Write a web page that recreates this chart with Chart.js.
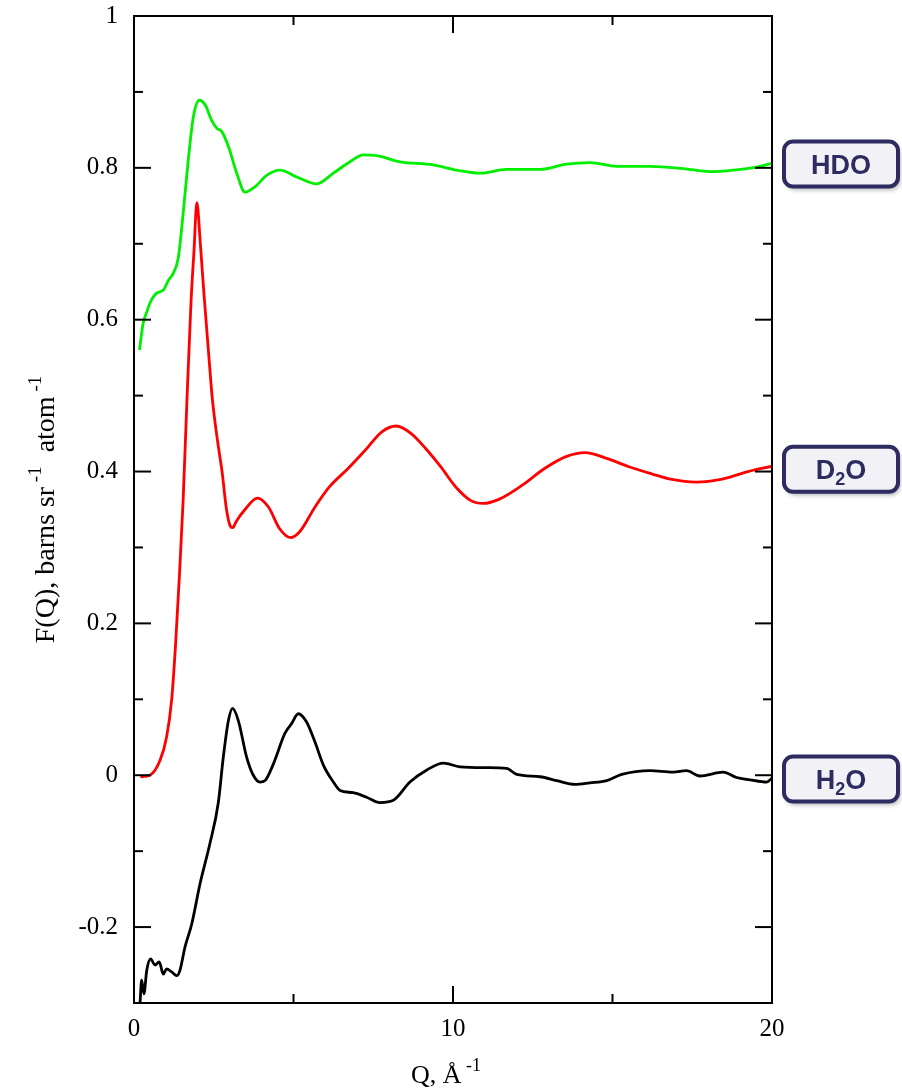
<!DOCTYPE html>
<html>
<head>
<meta charset="utf-8">
<script src="https://cdn.jsdelivr.net/npm/chart.js"></script>
<style>
  body { margin: 0; background: #fff; }
  #wrap { width: 902px; height: 1091px; }
</style>
</head>
<body>
<div id="wrap"><canvas id="myChart" width="902" height="1091"></canvas></div>
<script>
// values (Q in 1/Angstrom, F(Q) in barns/sr/atom)
const hdoQ = [0.17, 0.29, 0.4, 0.5, 0.71, 0.92, 1.08, 1.23, 1.39, 1.55, 1.70, 1.86, 2.05, 2.23, 2.43, 2.6, 2.75, 2.96, 3.22, 3.48, 3.79, 4.16, 4.58, 5.10, 5.73, 6.25, 6.77, 7.19, 7.61, 8.34, 9.38, 10.11, 10.85, 11.68, 12.73, 13.56, 14.29, 15.13, 16.18, 17.22, 18.06, 18.79, 19.52, 20];
const hdoF = [0.56, 0.596, 0.61, 0.622, 0.635, 0.639, 0.652, 0.661, 0.682, 0.744, 0.81, 0.867, 0.889, 0.883, 0.863, 0.852, 0.848, 0.828, 0.793, 0.768, 0.775, 0.79, 0.797, 0.788, 0.779, 0.793, 0.808, 0.817, 0.816, 0.808, 0.804, 0.797, 0.793, 0.798, 0.798, 0.805, 0.807, 0.802, 0.802, 0.799, 0.795, 0.797, 0.801, 0.806];

const d2oQ = [0.2, 0.5, 0.82, 1.02, 1.18, 1.3, 1.42, 1.54, 1.66, 1.79, 1.88, 1.97, 2.08, 2.2, 2.35, 2.46, 2.62, 2.76, 2.9, 3.02, 3.1, 3.2, 3.46, 3.87, 4.22, 4.56, 4.91, 5.2, 5.67, 6.13, 6.71, 7.29, 7.76, 8.22, 8.69, 9.15, 9.62, 10.08, 10.55, 10.95, 11.47, 12.17, 12.87, 13.56, 14.14, 14.84, 15.54, 16.23, 16.82, 17.63, 18.44, 19.25, 20];
const d2oF = [-0.002, 0, 0.02, 0.05, 0.099, 0.17, 0.26, 0.362, 0.494, 0.626, 0.69, 0.754, 0.70, 0.63, 0.55, 0.494, 0.44, 0.40, 0.35, 0.328, 0.326, 0.334, 0.349, 0.365, 0.353, 0.325, 0.313, 0.321, 0.353, 0.380, 0.404, 0.430, 0.452, 0.460, 0.450, 0.430, 0.406, 0.380, 0.362, 0.358, 0.364, 0.382, 0.404, 0.420, 0.425, 0.417, 0.406, 0.397, 0.390, 0.386, 0.390, 0.400, 0.407];

const h2oQ = [0.19, 0.24, 0.31, 0.40, 0.52, 0.66, 0.79, 0.92, 1.02, 1.18, 1.34, 1.44, 1.60, 1.81, 2.07, 2.38, 2.64, 2.80, 2.96, 3.09, 3.27, 3.53, 3.74, 3.95, 4.11, 4.37, 4.73, 4.94, 5.15, 5.41, 5.67, 5.94, 6.25, 6.46, 6.87, 7.29, 7.71, 8.13, 8.65, 9.18, 9.70, 10.22, 11.06, 11.68, 12.0, 12.73, 13.25, 13.82, 14.29, 14.82, 15.29, 16.18, 16.90, 17.32, 17.74, 18.47, 18.89, 19.31, 19.83, 20];
const h2oF = [-0.299, -0.270, -0.288, -0.257, -0.242, -0.250, -0.246, -0.262, -0.255, -0.259, -0.264, -0.257, -0.226, -0.196, -0.143, -0.090, -0.037, 0.024, 0.072, 0.088, 0.072, 0.024, 0.0, -0.009, -0.007, 0.015, 0.055, 0.068, 0.081, 0.070, 0.044, 0.013, -0.009, -0.020, -0.023, -0.029, -0.036, -0.033, -0.009, 0.007, 0.016, 0.011, 0.010, 0.009, 0.001, -0.002, -0.007, -0.012, -0.010, -0.007, 0.001, 0.006, 0.004, 0.006, -0.001, 0.004, -0.003, -0.006, -0.009, -0.004];

const xTicks = [0, 10, 20];
const xTickLabels = ['0', '10', '20'];
const xMinor = [5, 15];
const yTicks = [-0.2, 0, 0.2, 0.4, 0.6, 0.8, 1];
const yTickLabels = ['-0.2', '0', '0.2', '0.4', '0.6', '0.8', '1'];
const yMinor = [-0.1, 0.1, 0.3, 0.5, 0.7, 0.9];

const seriesNames = ['HDO', 'D2O', 'H2O'];
const seriesColors = ['#00ee00', '#ff0000', '#000000'];
const labelAt = [0.805, 0.403, -0.005];

const pts = (qs, fs) => qs.map((q, i) => ({ x: q, y: fs[i] }))
const serif = '"Liberation Serif", "Times New Roman", serif'
const sans = '"Liberation Sans", Arial, sans-serif'

// frame with inward ticks, axis titles and the side labels
const decorations = {
    id: 'decorations',
    afterDatasetsDraw(chart) {
        const { ctx, chartArea: a, scales: { x, y } } = chart
        ctx.save()
        ctx.strokeStyle = '#000'
        ctx.lineWidth = 2
        ctx.strokeRect(a.left, a.top, a.right - a.left, a.bottom - a.top)

        const tick = (x1, y1, x2, y2) => {
            ctx.beginPath(); ctx.moveTo(x1, y1); ctx.lineTo(x2, y2); ctx.stroke()
        }
        yTicks.forEach(v => {
            const p = y.getPixelForValue(v)
            tick(a.left, p, a.left + 17, p); tick(a.right, p, a.right - 17, p)
        })
        yMinor.forEach(v => {
            const p = y.getPixelForValue(v)
            tick(a.left, p, a.left + 9, p); tick(a.right, p, a.right - 9, p)
        })
        xTicks.forEach(v => {
            const p = x.getPixelForValue(v)
            tick(p, a.bottom, p, a.bottom - 17); tick(p, a.top, p, a.top + 17)
        })
        xMinor.forEach(v => {
            const p = x.getPixelForValue(v)
            tick(p, a.bottom, p, a.bottom - 9); tick(p, a.top, p, a.top + 9)
        })

        // rich text: parts of [text, size, dy]
        const drawRich = (parts, cx, cy) => {
            let w = 0
            parts.forEach(p => { ctx.font = p[1] + 'px ' + serif; w += ctx.measureText(p[0]).width })
            let px = cx - w / 2
            parts.forEach(p => {
                ctx.font = p[1] + 'px ' + serif
                ctx.fillText(p[0], px, cy + p[2])
                px += ctx.measureText(p[0]).width
            })
        }
        ctx.fillStyle = '#000'
        ctx.textBaseline = 'alphabetic'
        ctx.textAlign = 'left'
        drawRich([['Q, \u00C5', 26, 0], [' -1', 18, -12]], 446, 1083)

        ctx.save()
        ctx.translate(54, (a.top + a.bottom) / 2)
        ctx.rotate(-Math.PI / 2)
        drawRich([['F(Q), barns sr', 28, 0], [' -1', 19, -13], ['  atom', 28, 0], [' -1', 19, -13]], 0, 0)
        ctx.restore()

        // boxed series labels
        seriesNames.forEach((name, i) => {
            const cy = y.getPixelForValue(labelAt[i])
            const bx = 784, bw = 114, bh = 45, by = cy - bh / 2
            ctx.save()
            ctx.shadowColor = 'rgba(0,0,0,0.35)'
            ctx.shadowBlur = 5
            ctx.shadowOffsetX = 2
            ctx.shadowOffsetY = 3
            ctx.beginPath()
            ctx.roundRect(bx, by, bw, bh, 9)
            ctx.fillStyle = '#f2f1f6'
            ctx.fill()
            ctx.restore()
            ctx.beginPath()
            ctx.roundRect(bx, by, bw, bh, 9)
            ctx.lineWidth = 4
            ctx.strokeStyle = '#2d2b5f'
            ctx.stroke()

            ctx.fillStyle = '#2d2b5f'
            const big = 'bold 27px ' + sans, small = 'bold 18px ' + sans
            let parts
            if (name === 'HDO') parts = [['HDO', big, 0]]
            else parts = [[name[0], big, 0], ['2', small, 6], ['O', big, 0]]
            let w = 0
            parts.forEach(p => { ctx.font = p[1]; w += ctx.measureText(p[0]).width })
            let px = bx + bw / 2 - w / 2
            parts.forEach(p => {
                ctx.font = p[1]
                ctx.fillText(p[0], px, cy + 10 + p[2])
                px += ctx.measureText(p[0]).width
            })
        })
        ctx.restore()
    }
}

const config = {
    type: 'line',
    data: {
        datasets: [
            { label: 'HDO', data: pts(hdoQ, hdoF), borderColor: seriesColors[0] },
            { label: 'D2O', data: pts(d2oQ, d2oF), borderColor: seriesColors[1] },
            { label: 'H2O', data: pts(h2oQ, h2oF), borderColor: seriesColors[2] }
        ]
    },
    options: {
        responsive: false,
        animation: false,
        layout: { padding: { left: 0, right: 130, top: 16, bottom: 0 } },
        elements: {
            point: { radius: 0 },
            line: { borderWidth: 2.8, cubicInterpolationMode: 'monotone', fill: false }
        },
        plugins: { legend: { display: false }, tooltip: { enabled: false } },
        scales: {
            x: {
                type: 'linear', min: 0, max: 20,
                grid: { display: false }, border: { display: false },
                afterBuildTicks: s => { s.ticks = xTicks.map(v => ({ value: v })) },
                afterFit: s => { s.height = 88; s.paddingLeft = 0; s.paddingRight = 0 },
                ticks: {
                    padding: 3, color: '#000', maxRotation: 0,
                    font: { family: serif, size: 25 },
                    callback: (v, i) => xTickLabels[i]
                }
            },
            y: {
                type: 'linear', min: -0.3, max: 1,
                grid: { display: false }, border: { display: false },
                afterBuildTicks: s => { s.ticks = yTicks.map(v => ({ value: v })) },
                afterFit: s => { s.width = 134; s.paddingTop = 0; s.paddingBottom = 0 },
                ticks: {
                    padding: 8, color: '#000',
                    font: { family: serif, size: 25 },
                    callback: (v, i) => yTickLabels[i]
                }
            }
        }
    },
    plugins: [decorations]
}

new Chart(document.getElementById('myChart'), config)
</script>
</body>
</html>
